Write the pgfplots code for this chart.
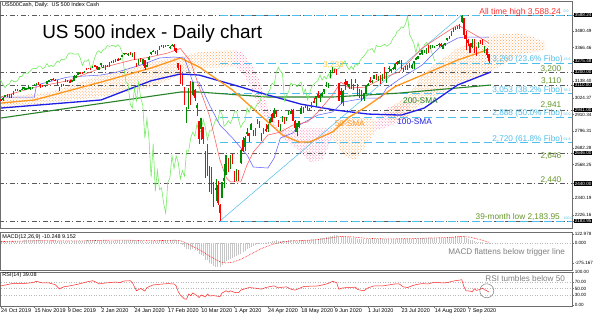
\documentclass[border=0pt]{standalone}
\usepackage{pgfplots}
\pgfplotsset{compat=1.18}
\usepackage{pgfplotstable}
\usepackage{fontspec}
\setmainfont{Liberation Sans}
\usetikzlibrary{patterns}
\newcommand\fs[1]{\fontsize{#1}{#1}\selectfont}
\definecolor{cup}{RGB}{0,140,0}
\definecolor{cdn}{RGB}{255,0,0}
\definecolor{sma50}{RGB}{255,150,30}
\definecolor{sma100}{RGB}{30,30,230}
\definecolor{sma200}{RGB}{40,130,40}
\definecolor{tenkan}{RGB}{255,90,90}
\definecolor{kijun}{RGB}{100,100,255}
\definecolor{chikou}{RGB}{110,235,90}
\definecolor{fibo}{RGB}{80,190,235}
\definecolor{lvl}{RGB}{100,150,40}
\definecolor{dgray}{RGB}{90,90,90}
\definecolor{cloudo}{RGB}{255,160,80}
\definecolor{cloudp}{RGB}{255,120,170}
\definecolor{frame}{RGB}{110,110,110}
\pgfplotstableread{
i o h l c
0 3012 3016 2999 3010
1 3008 3027 3001 3023
2 3030 3044 3028 3039
3 3038 3047 3035 3036
4 3038 3050 3025 3047
5 3048 3049 3024 3038
6 3042 3067 3040 3066
7 3070 3083 3068 3078
8 3079 3084 3070 3075
9 3076 3080 3067 3077
10 3080 3098 3076 3085
11 3082 3093 3074 3093
12 3080 3088 3075 3087
13 3089 3102 3084 3091
14 3084 3098 3078 3095
15 3091 3099 3083 3097
16 3107 3121 3106 3120
17 3118 3124 3113 3122
18 3128 3128 3113 3120
19 3115 3119 3090 3108
20 3108 3111 3096 3104
21 3108 3112 3099 3110
22 3118 3134 3117 3134
23 3134 3142 3131 3141
24 3145 3155 3142 3153
25 3153 3156 3149 3152
26 3147 3151 3140 3141
27 3144 3145 3110 3114
28 3088 3095 3070 3093
29 3098 3120 3096 3113
30 3119 3120 3102 3117
31 3134 3150 3133 3145
32 3142 3148 3135 3135
33 3136 3143 3127 3133
34 3136 3144 3134 3142
35 3142 3176 3138 3169
36 3166 3182 3156 3169
37 3183 3197 3183 3192
38 3195 3198 3189 3192
39 3195 3199 3190 3191
40 3192 3206 3192 3206
41 3223 3226 3216 3221
42 3226 3228 3221 3224
43 3225 3226 3220 3223
44 3227 3240 3227 3240
45 3247 3248 3235 3240
46 3240 3241 3214 3221
47 3216 3232 3213 3231
48 3245 3258 3235 3258
49 3227 3247 3226 3235
50 3218 3247 3214 3246
51 3242 3245 3232 3237
52 3238 3268 3236 3253
53 3267 3275 3263 3275
54 3281 3283 3260 3265
55 3271 3288 3268 3288
56 3285 3294 3277 3283
57 3283 3298 3280 3289
58 3302 3317 3302 3317
59 3323 3330 3318 3330
60 3330 3332 3325 3328
61 3321 3329 3306 3321
62 3330 3338 3318 3321
63 3315 3326 3302 3325
64 3334 3338 3284 3295
65 3247 3258 3235 3244
66 3255 3285 3249 3276
67 3289 3294 3271 3273
68 3257 3285 3243 3284
69 3283 3284 3215 3226
70 3236 3268 3234 3249
71 3280 3306 3280 3298
72 3324 3338 3313 3334
73 3344 3347 3334 3345
74 3335 3341 3322 3328
75 3319 3352 3317 3352
76 3365 3375 3352 3358
77 3370 3381 3369 3380
78 3365 3385 3360 3374
79 3378 3381 3369 3380
80 3380 3386 3376 3382
81 3370 3375 3355 3370
82 3380 3393 3378 3386
83 3380 3389 3341 3373
84 3360 3360 3328 3338
85 3257 3259 3215 3226
86 3238 3246 3118 3128
87 3139 3182 3108 3116
88 3063 3098 2977 2979
89 2916 2960 2855 2954
90 2974 3091 2946 3090
91 3096 3137 2977 3003
92 3046 3130 3034 3130
93 3075 3083 2999 3024
94 2954 2986 2902 2972
95 2864 2864 2707 2747
96 2814 2882 2734 2882
97 2825 2825 2708 2741
98 2631 2660 2478 2481
99 2569 2711 2492 2711
100 2509 2562 2380 2386
101 2425 2553 2367 2529
102 2436 2453 2281 2398
103 2393 2467 2319 2409
104 2431 2454 2295 2305
105 2291 2300 2184 2237
106 2345 2449 2345 2447
107 2458 2572 2407 2476
108 2501 2637 2500 2630
109 2556 2616 2520 2541
110 2558 2632 2538 2627
111 2614 2641 2571 2585
112 2499 2522 2447 2471
113 2459 2540 2455 2527
114 2515 2534 2459 2489
115 2578 2676 2574 2664
116 2738 2756 2657 2660
117 2686 2760 2663 2750
118 2776 2818 2762 2790
119 2782 2782 2721 2762
120 2805 2851 2805 2846
121 2795 2802 2760 2784
122 2800 2816 2765 2800
123 2843 2880 2843 2875
124 2845 2868 2821 2823
125 2784 2785 2727 2737
126 2787 2815 2775 2799
127 2810 2844 2794 2798
128 2812 2842 2791 2837
129 2854 2888 2852 2878
130 2909 2922 2860 2863
131 2885 2955 2885 2940
132 2930 2931 2892 2912
133 2870 2870 2822 2830
134 2815 2844 2798 2843
135 2868 2898 2858 2868
136 2884 2892 2845 2849
137 2879 2891 2865 2882
138 2909 2932 2909 2930
139 2915 2945 2912 2930
140 2939 2945 2869 2870
141 2865 2875 2793 2820
142 2795 2852 2766 2852
143 2829 2865 2816 2864
144 2913 2968 2913 2954
145 2948 2964 2922 2923
146 2953 2981 2953 2972
147 2969 2978 2938 2949
148 2948 2956 2934 2955
149 2960 2992 2955 2985
150 3004 3022 2990 2991
151 3015 3036 2970 3036
152 3046 3068 3023 3029
153 3025 3050 2998 3044
154 3038 3062 3032 3056
155 3064 3081 3052 3081
156 3098 3130 3098 3123
157 3112 3128 3090 3112
158 3163 3212 3163 3194
159 3199 3233 3196 3232
160 3213 3223 3194 3207
161 3213 3223 3182 3190
162 3124 3124 2999 3002
163 3071 3088 2984 3041
164 2993 3079 2966 3067
165 3131 3154 3077 3125
166 3136 3141 3109 3114
167 3101 3121 3082 3116
168 3140 3155 3083 3098
169 3095 3121 3079 3118
170 3138 3154 3123 3131
171 3114 3115 3033 3050
172 3046 3086 3024 3083
173 3073 3073 3004 3009
174 3018 3054 3000 3053
175 3050 3112 3048 3100
176 3105 3128 3101 3116
177 3143 3165 3124 3130
178 3132 3145 3128 3140
179 3155 3182 3155 3179
180 3166 3184 3142 3145
181 3154 3171 3136 3169
182 3176 3179 3115 3152
183 3152 3186 3136 3185
184 3205 3235 3149 3155
185 3141 3200 3128 3197
186 3225 3238 3200 3227
187 3208 3220 3198 3216
188 3224 3233 3213 3225
189 3224 3258 3215 3251
190 3268 3277 3247 3257
191 3254 3280 3253 3276
192 3271 3280 3220 3236
193 3218 3227 3200 3216
194 3219 3241 3215 3239
195 3234 3244 3216 3218
196 3228 3264 3228 3258
197 3231 3251 3220 3246
198 3270 3272 3220 3271
199 3288 3302 3284 3295
200 3289 3307 3285 3306
201 3318 3331 3317 3327
202 3323 3351 3318 3349
203 3341 3353 3329 3351
204 3357 3364 3325 3360
205 3370 3381 3326 3333
206 3355 3387 3355 3380
207 3373 3387 3363 3373
208 3368 3378 3362 3372
209 3380 3387 3379 3381
210 3387 3395 3370 3389
211 3392 3399 3369 3375
212 3360 3391 3354 3386
213 3386 3400 3379 3397
214 3418 3432 3414 3431
215 3435 3444 3425 3443
216 3449 3481 3444 3478
217 3486 3501 3469 3484
218 3494 3509 3484 3508
219 3509 3514 3494 3500
220 3507 3528 3494 3527
221 3543 3588 3535 3580
222 3565 3565 3428 3455
223 3453 3479 3350 3427
224 3420 3428 3380 3395
225 3390 3398 3330 3331
226 3370 3424 3366 3398
227 3412 3425 3329 3339
228 3352 3368 3310 3340
229 3364 3402 3364 3383
230 3407 3419 3389 3401
231 3411 3428 3384 3385
232 3346 3375 3328 3357
233 3357 3362 3292 3319
234 3319 3325 3262 3275
}\ohlc
\begin{document}
\begin{tikzpicture}
\useasboundingbox (0,0) rectangle (600bp,317bp);
\fill[white] (0,0) rectangle (600bp,317bp);
% ---------------- main price panel ----------------
\begin{axis}[at={(0bp,89bp)}, anchor=south west, scale only axis,
  width=572bp, height=227bp,
  xmin=-0.48, xmax=273.86, ymin=2136.2, ymax=3683.7,
  axis line style={draw=frame, line width=0.6bp},
  xtick=\empty,
  ytick pos=right, yticklabel pos=right, tick align=outside,
  major tick length=2bp, tick style={draw=frame, line width=0.4bp},
  tick label style={font=\fs{4.6}, inner sep=0.6bp},
  ytick={3480.49,3366.46,3138.40,3024.37,2910.34,2796.31,2682.28,2568.25,2340.19,2226.16},
  yticklabels={3480.49,3366.46,3138.40,3024.37,2910.34,2796.31,2682.28,2568.25,2340.19,2226.16},
  extra y ticks={3588.24,3275.48,3200,3110,2941,2646,2440,2183.95},
  extra y tick labels={3588.24,3275.48,3200.00,3110.00,2941.00,2646.00,2440.00,2183.95},
  extra y tick style={yticklabel style={fill=black, text=white, inner sep=0.6bp}},
]
% Ichimoku cloud
\addplot[draw=none, pattern=crosshatch dots, pattern color=cloudo] coordinates {(0,3029)(24,3063)(48,3179)(72,3268)(86,3302)(95,3336)(112,3350)(112,3234)(95,3227)(86,3179)(72,3097)(48,3029)(24,2990)(0,2954)};
\addplot[draw=none, pattern=crosshatch dots, pattern color=cloudp] coordinates {(112,3350)(116,3330)(120,3250)(124,3150)(128,2950)(133,2818)(133,2780)(128,2850)(124,2950)(120,3080)(116,3200)(112,3234)};
\addplot[draw=none, pattern=crosshatch dots, pattern color=cloudp] coordinates {(133,2818)(159,2818)(159,2750)(154,2600)(148,2586)(143,2654)(138,2720)(133,2780)};
\addplot[draw=none, pattern=crosshatch dots, pattern color=cloudo] coordinates {(159,2818)(163,2870)(168,2886)(175,2886)(180,2870)(180,2800)(175,2700)(170,2600)(165,2620)(159,2750)};
\addplot[draw=none, pattern=crosshatch dots, pattern color=cloudp] coordinates {(180,2870)(186,2960)(196,2990)(196,2900)(190,2850)(180,2800)};
\addplot[draw=none, pattern=crosshatch dots, pattern color=cloudo] coordinates {(186,2950)(196,3050)(203,3200)(219,3363)(235,3452)(248,3465)(255,3440)(261,3404)(261,3350)(248,3315)(235,3200)(219,3111)(203,2995)(196,2900)(186,2850)};
% support / resistance levels
\pgfplotsinvokeforeach{3588.24,3200,3110,2941,2646,2440,2183.95}{
  \addplot[dgray, line width=0.6bp, dash pattern=on 5bp off 2.5bp on 1bp off 2.5bp] coordinates {(-1,#1) (275,#1)};
}
% Fibonacci levels
\pgfplotsinvokeforeach{3588.24,3260,3053,2888,2720,2183.95}{
  \addplot[fibo, line width=0.7bp, dash pattern=on 8bp off 4bp] coordinates {(105,#1) (275,#1)};
}
\addplot[fibo, line width=0.5bp] coordinates {(105,2183.95) (221,3588.24)};
% moving averages
\addplot[sma200, line width=1.1bp] coordinates {(0,2886)(43,2975)(86,3063)(95,3063)(128,3029)(159,3029)(191,3056)(235,3111)};
\addplot[sma100, line width=1.3bp] coordinates {(0,2954)(48,3009)(72,3140)(86,3186)(95,3179)(112,3110)(128,3043)(144,2980)(160,2941)(176,2913)(192,2906)(203,2954)(219,3111)(235,3200)};
\addplot[sma50, line width=1.3bp] coordinates {(0,2988)(16,3009)(48,3131)(72,3227)(86,3295)(95,3234)(111,3077)(128,2859)(135,2770)(143,2722)(148,2722)(159,2791)(167,2893)(175,2961)(189,3100)(219,3281)(233,3350)};
% ichimoku lines
\addplot[chikou, line width=0.55bp] table[x expr=\thisrow{i}-26, y=c] {\ohlc};
\addplot[kijun, line width=0.55bp] coordinates {(0,3029)(16,3029)(17,3111)(32,3165)(48,3179)(56,3200)(67,3247)(76,3295)(83,3302)(88,3295)(92,3131)(95,3131)(100,2975)(105,2838)(111,2750)(118,2634)(121,2552)(128,2545)(131,2613)(134,2750)(140,2784)(143,2838)(152,2906)(159,2927)(164,2995)(175,3022)(182,3022)(185,3090)(191,3150)(202,3247)(210,3363)(219,3431)(222,3438)(234,3438)};
\addplot[tenkan, line width=0.55bp] coordinates {(0,3030)(16,3095)(32,3140)(48,3227)(63,3282)(71,3300)(80,3329)(86,3360)(91,3270)(95,3100)(100,2900)(105,2600)(108,2480)(110,2450)(115,2450)(118,2566)(121,2654)(128,2770)(134,2790)(140,2838)(147,2859)(152,2927)(159,3043)(163,3131)(167,3090)(175,3097)(183,3158)(191,3200)(202,3363)(210,3438)(219,3520)(225,3472)(230,3431)(234,3397)};
% candles: wicks
\addplot[cup, draw=none, mark=none, error bars/.cd, y dir=both, y explicit, error mark=none,
  error bar style={line width=0.5bp, draw=cup, color=cup, solid}]
  table[x=i, y expr={\thisrow{c}>=\thisrow{o} ? (\thisrow{h}+\thisrow{l})/2 : nan}, y error expr={(\thisrow{h}-\thisrow{l})/2}] {\ohlc};
\addplot[cdn, draw=none, mark=none, error bars/.cd, y dir=both, y explicit, error mark=none,
  error bar style={line width=0.5bp, draw=cdn, color=cdn, solid}]
  table[x=i, y expr={\thisrow{c}<\thisrow{o} ? (\thisrow{h}+\thisrow{l})/2 : nan}, y error expr={(\thisrow{h}-\thisrow{l})/2}] {\ohlc};
% candles: bodies
\addplot[cup, draw=none, mark=none, error bars/.cd, y dir=both, y explicit, error mark=none,
  error bar style={line width=1.5bp, draw=cup, color=cup, solid}]
  table[x=i, y expr={\thisrow{c}>=\thisrow{o} ? (\thisrow{o}+\thisrow{c})/2 : nan}, y error expr={abs(\thisrow{c}-\thisrow{o})/2+1}] {\ohlc};
\addplot[cdn, draw=none, mark=none, error bars/.cd, y dir=both, y explicit, error mark=none,
  error bar style={line width=1.5bp, draw=cdn, color=cdn, solid}]
  table[x=i, y expr={\thisrow{c}<\thisrow{o} ? (\thisrow{o}+\thisrow{c})/2 : nan}, y error expr={abs(\thisrow{c}-\thisrow{o})/2+1}] {\ohlc};
% texts
\node[anchor=base west, font=\fs{5.5}, inner sep=0pt] at (axis cs:0.5,3646) {US500Cash, Daily:\ \ US 500 Index Cash};
\node[anchor=base west, font=\fs{19}, inner sep=0pt] at (axis cs:19.7,3431) {US 500 index - Daily chart};
\node[anchor=base east, font=\fs{8.5}, text={rgb,255:red,255;green,50;blue,50}, inner sep=0pt] at (axis cs:268.6,3595) {All time high 3,588.24};
\node[anchor=base east, font=\fs{8.3}, text=fibo, inner sep=0pt] at (axis cs:269.5,3268) {3,260 (23.6\% Fibo)};
\node[anchor=base east, font=\fs{8.3}, text=lvl, inner sep=0pt] at (axis cs:268.8,3206) {3,200};
\node[anchor=base east, font=\fs{8.3}, text=lvl, inner sep=0pt] at (axis cs:268.8,3118) {3,110};
\node[anchor=base east, font=\fs{8.3}, text=fibo, inner sep=0pt] at (axis cs:269.5,3063) {3,053 (38.2\% Fibo)};
\node[anchor=base east, font=\fs{8.3}, text=lvl, inner sep=0pt] at (axis cs:268.8,2961) {2,941};
\node[anchor=base east, font=\fs{8.3}, text=fibo, inner sep=0pt] at (axis cs:269.5,2900) {2,888 (50.0\% Fibo)};
\node[anchor=base east, font=\fs{8.3}, text=fibo, inner sep=0pt] at (axis cs:269.5,2726) {2,720 (61.8\% Fibo)};
\node[anchor=base east, font=\fs{8.3}, text=lvl, inner sep=0pt] at (axis cs:268.8,2607) {2,646};
\node[anchor=base east, font=\fs{8.3}, text=lvl, inner sep=0pt] at (axis cs:268.8,2443) {2,440};
\node[anchor=base east, font=\fs{8.3}, text=lvl, inner sep=0pt] at (axis cs:268.1,2191) {39-month low 2,183.95};
\node[anchor=base west, font=\fs{3.5}, text=fibo, inner sep=0pt] at (axis cs:269.8,3602) {0.0};
\node[anchor=base west, font=\fs{3.5}, text=fibo, inner sep=0pt] at (axis cs:269.8,3275) {23.6};
\node[anchor=base west, font=\fs{3.5}, text=fibo, inner sep=0pt] at (axis cs:269.8,3070) {38.2};
\node[anchor=base west, font=\fs{3.5}, text=fibo, inner sep=0pt] at (axis cs:269.8,2906) {50.0};
\node[anchor=base west, font=\fs{3.5}, text=fibo, inner sep=0pt] at (axis cs:269.8,2732) {61.8};
\node[anchor=base west, font=\fs{3.5}, text=fibo, inner sep=0pt] at (axis cs:269.8,2197) {100.0};
\node[anchor=base west, font=\fs{8.3}, text=sma200, inner sep=0pt] at (axis cs:192.8,2988) {200-SMA};
\node[anchor=base west, font=\fs{8.3}, text=sma100, inner sep=0pt] at (axis cs:190,2845) {100-SMA};
\node[anchor=base west, font=\fs{8.3}, text=sma50, inner sep=0pt] at (axis cs:160,2825) {50-SMA};
\node[anchor=base west, font=\fs{8.3}, text={rgb,255:red,255;green,205;blue,70}, inner sep=0pt] at (axis cs:154.4,3227) {3,233};
\end{axis}
% ---------------- MACD panel ----------------
\begin{axis}[at={(0bp,47bp)}, anchor=south west, scale only axis,
  width=572bp, height=38bp,
  xmin=-0.48, xmax=273.86, ymin=-371, ymax=151,
  axis line style={draw=frame, line width=0.6bp},
  xtick=\empty,
  ytick pos=right, yticklabel pos=right, tick align=outside,
  major tick length=2bp, tick style={draw=frame, line width=0.4bp},
  tick label style={font=\fs{4.6}, inner sep=0.6bp},
  ytick={122.978,0,-275.167}, yticklabels={122.978,0.000,-275.167},
]
\addplot[gray!55, dotted, line width=0.5bp] coordinates {(-1,0)(275,0)};
\addplot[ycomb, mark=none, draw=gray!45, line width=0.7bp] coordinates {
(0,22)(1,23)(2,25)(3,26)(4,27)(5,27)(6,29)(7,31)(8,32)(9,33)(10,34)
(11,35)(12,35)(13,35)(14,35)(15,37)(16,38)(17,38)(18,37)(19,35)(20,33)
(21,32)(22,33)(23,34)(24,36)(25,36)(26,35)(27,31)(28,25)(29,22)(30,20)
(31,22)(32,22)(33,21)(34,21)(35,24)(36,26)(37,29)(38,31)(39,32)(40,34)
(41,37)(42,38)(43,38)(44,40)(45,41)(46,39)(47,38)(48,39)(49,36)(50,35)
(51,33)(52,33)(53,34)(54,34)(55,35)(56,36)(57,37)(58,40)(59,43)(60,44)
(61,44)(62,43)(63,43)(64,40)(65,33)(66,30)(67,27)(68,25)(69,19)(70,16)
(71,19)(72,24)(73,28)(74,29)(75,32)(76,34)(77,37)(78,39)(79,40)(80,41)
(81,40)(82,41)(83,40)(84,37)(85,22)(86,-5)(87,-25)(88,-55)(89,-80)(90,-80)
(91,-90)(92,-85)(93,-95)(94,-110)(95,-150)(96,-160)(97,-185)(98,-230)(99,-240)(100,-280)
(101,-295)(102,-315)(103,-325)(104,-330)(105,-335)(106,-305)(107,-280)(108,-250)(109,-235)(110,-215)
(111,-200)(112,-195)(113,-185)(114,-160)(115,-145)(116,-130)(117,-105)(118,-85)(119,-70)(120,-50)
(121,-40)(122,-30)(123,-15)(124,-8)(125,-5)(126,0)(127,5)(128,10)(129,18)(130,25)
(131,32)(132,35)(133,32)(134,30)(135,30)(136,29)(137,30)(138,35)(139,38)(140,36)
(141,30)(142,30)(143,30)(144,37)(145,38)(146,42)(147,43)(148,45)(149,48)(150,50)
(151,55)(152,58)(153,62)(154,66)(155,72)(156,78)(157,80)(158,90)(159,100)(160,105)
(161,105)(162,92)(163,85)(164,80)(165,80)(166,78)(167,76)(168,73)(169,70)(170,68)
(171,60)(172,58)(173,52)(174,50)(175,50)(176,51)(177,52)(178,54)(179,57)(180,56)
(181,56)(182,55)(183,56)(184,52)(185,53)(186,55)(187,56)(188,57)(189,59)(190,62)
(191,64)(192,62)(193,58)(194,56)(195,54)(196,54)(197,54)(198,55)(199,58)(200,62)
(201,66)(202,70)(203,72)(204,74)(205,73)(206,74)(207,74)(208,73)(209,73)(210,73)
(211,72)(212,72)(213,73)(214,77)(215,80)(216,85)(217,88)(218,92)(219,93)(220,95)
(221,102)(222,90)(223,75)(224,60)(225,45)(226,40)(227,30)(228,20)(229,15)(230,12)
(231,8)(232,0)(233,-5)(234,-10)};
\addplot[red, densely dotted, line width=0.6bp] coordinates {(0,20)(20,33)(30,28)(40,30)(50,38)(60,40)(70,30)(80,36)(84,38)(87,25)(90,-20)(95,-90)(100,-180)(105,-260)(108,-275)(111,-265)(115,-225)(120,-150)(125,-75)(130,-20)(135,15)(140,30)(150,40)(158,70)(163,90)(168,85)(175,65)(185,56)(195,58)(205,68)(215,75)(221,90)(225,80)(230,45)(234,9)};
\node[anchor=base west, font=\fs{5.5}, inner sep=0pt] at (rel axis cs:0.004,0.842) {MACD(12,26,9) -10.248 9.152};
\node[anchor=base east, font=\fs{8.2}, text=gray, inner sep=0pt] at (rel axis cs:0.988,0.395) {MACD flattens below trigger line};
\end{axis}
% ---------------- RSI panel ----------------
\begin{axis}[at={(0bp,11bp)}, anchor=south west, scale only axis,
  width=572bp, height=34bp,
  xmin=-0.48, xmax=273.86, ymin=-3.85, ymax=100.77,
  axis line style={draw=frame, line width=0.6bp},
  ytick pos=right, yticklabel pos=right, xtick pos=bottom, tick align=outside,
  major tick length=2bp, tick style={draw=frame, line width=0.4bp},
  tick label style={font=\fs{4.6}, inner sep=0.6bp},
  ytick={0,30,50,70,100}, yticklabels={0.00,30.00,50.00,70.00,100.00},
  xtick={0,16,32,48,64,80,96,112,128,144,160,176,192,208,224},
  xticklabels={24 Oct 2019,15 Nov 2019,9 Dec 2019,2 Jan 2020,24 Jan 2020,17 Feb 2020,10 Mar 2020,1 Apr 2020,24 Apr 2020,18 May 2020,9 Jun 2020,1 Jul 2020,23 Jul 2020,14 Aug 2020,7 Sep 2020},
  xticklabel style={font=\fs{5.5}, anchor=north west, inner sep=0.5bp, xshift=-0.5bp},
]
\pgfplotsinvokeforeach{30,50,70}{
  \addplot[gray!55, dotted, line width=0.5bp] coordinates {(-1,#1)(275,#1)};
}
\addplot[red!85, line width=0.5bp] coordinates {(0,58)(3,62)(6,66)(9,65)(12,66)(15,68)(17,72)(20,67)(23,67)(26,62)(28,49)(30,55)(33,58)(36,62)(38,65)(41,70)(44,74)(46,68)(47,64)(50,67)(52,68)(55,70)(57,68)(59,73)(62,74)(63,68)(65,43)(67,50)(69,42)(70,53)(73,61)(76,63)(80,65)(83,64)(84,58)(85,40)(86,30)(88,18)(89,17)(90,33)(91,28)(92,36)(94,28)(95,22)(96,30)(98,24)(99,33)(100,27)(102,28)(104,26)(105,25)(106,36)(108,43)(109,39)(110,43)(112,38)(114,37)(115,45)(117,49)(119,53)(122,51)(125,48)(127,53)(129,56)(131,58)(133,52)(135,54)(137,55)(139,48)(141,45)(143,50)(145,56)(148,57)(150,57)(152,58)(155,62)(157,66)(159,72)(161,68)(162,48)(164,52)(167,53)(170,54)(171,47)(173,44)(174,43)(176,52)(179,58)(183,58)(186,61)(189,64)(191,64)(193,55)(195,53)(197,58)(199,62)(202,65)(205,64)(207,68)(210,68)(212,67)(214,68)(217,73)(220,76)(221,77)(222,56)(223,43)(225,42)(226,40)(227,49)(228,44)(230,48)(231,51)(232,46)(233,43)(234,39)};
\draw[gray, line width=0.5bp] (axis cs:233,43) circle[radius=7bp];
\node[anchor=base west, font=\fs{5.5}, inner sep=0pt] at (rel axis cs:0.004,0.853) {RSI(14) 39.08};
\node[anchor=base east, font=\fs{8.2}, text=gray, inner sep=0pt] at (rel axis cs:0.988,0.706) {RSI tumbles below 50};
\end{axis}
\end{tikzpicture}
\end{document}
